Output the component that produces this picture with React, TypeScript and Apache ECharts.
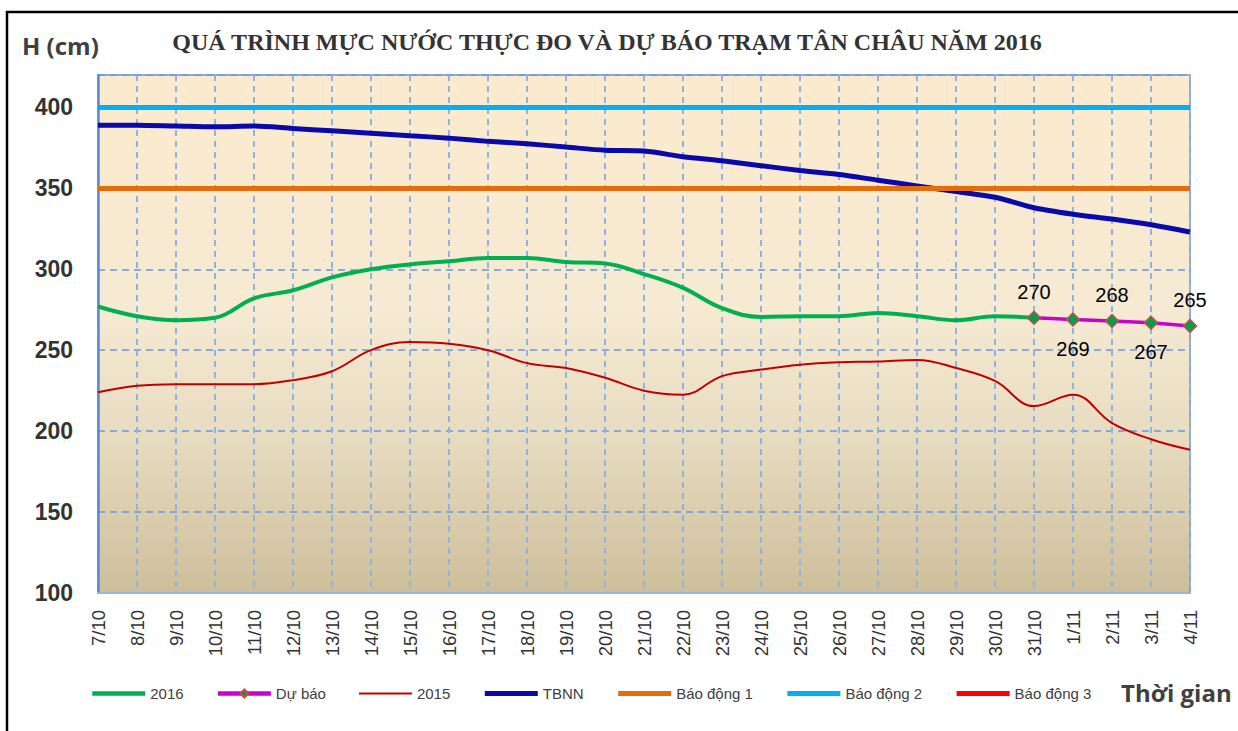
import { useEffect, useRef } from 'react';
import * as echarts from 'echarts';

const categories = [
  '7/10', '8/10', '9/10', '10/10', '11/10', '12/10', '13/10', '14/10', '15/10', '16/10',
  '17/10', '18/10', '19/10', '20/10', '21/10', '22/10', '23/10', '24/10', '25/10', '26/10',
  '27/10', '28/10', '29/10', '30/10', '31/10', '1/11', '2/11', '3/11', '4/11',
];

const data2016 = [
  277, 271, 268.5, 270, 282, 287, 295, 300, 303, 305,
  307, 307, 304.5, 303.5, 297, 288.5, 276, 270.5, 271, 271,
  273, 271, 268.5, 271, 270, null, null, null, null,
];

const forecast = [
  null, null, null, null, null, null, null, null, null, null,
  null, null, null, null, null, null, null, null, null, null,
  null, null, null, null, 270, 269, 268, 267, 265,
];
// label placement of forecast values: true = above the point
const forecastLabelAbove = [true, false, true, false, true];

const data2015 = [
  224, 228, 229, 229, 229, 231.5, 237, 250, 255, 254,
  250, 242, 239, 233, 225, 222.5, 234, 238, 241, 242.5,
  243, 244, 239, 231, 215.5, 222.5, 205, 195, 188.5,
];

const tbnn = [
  389, 389, 388.5, 388, 388.5, 387, 385.5, 384, 382.5, 381,
  379, 377.5, 375.5, 373.5, 373, 369.5, 367, 364, 361, 358.5,
  355, 351.5, 348, 344.5, 338, 334, 331, 327.5, 323,
];

const ALERT_1 = 350;
const ALERT_2 = 400;

const yTicks = [100, 150, 200, 250, 300, 350, 400];

const legendNames = ['2016', 'Dự báo', '2015', 'TBNN', 'Báo động 1', 'Báo động 2', 'Báo động 3'];
const legendLineWidths = [4.5, 4.5, 2, 5, 5, 5, 5];

export default function App() {
  const ref = useRef<HTMLDivElement>(null);

  useEffect(() => {
    if (!ref.current) return;
    const chart = echarts.init(ref.current, undefined, { renderer: 'svg' });

    let fIdx = 0;
    const forecastData = forecast.map((v) => {
      if (v === null) return null;
      const above = forecastLabelAbove[fIdx++];
      return {
        value: v,
        label: {
          show: true,
          position: above ? 'top' : 'bottom',
          distance: above ? 9 : 12,
        },
      };
    });

    const axisFont = 'Liberation Sans, Arial, sans-serif';

    chart.setOption({
      animation: false,
      backgroundColor: '#ffffff',
      grid: {
        left: 98,
        right: 48,
        top: 75,
        bottom: 138,
        show: true,
        borderColor: '#6E93C8',
        borderWidth: 1.5,
        backgroundColor: {
          type: 'linear',
          x: 0, y: 0, x2: 0, y2: 1,
          colorStops: [
            { offset: 0, color: '#FCEACD' },
            { offset: 0.45, color: '#F6EAD3' },
            { offset: 0.7, color: '#E7DCC0' },
            { offset: 1, color: '#CDBE9B' },
          ],
        },
      },
      graphic: [
        {
          type: 'rect',
          shape: { x: 7, y: 12, width: 1400, height: 900 },
          style: { fill: 'none', stroke: '#000', lineWidth: 2.5 },
          silent: true,
          z: 100,
        },
        {
          type: 'text',
          x: 607,
          y: 42,
          style: {
            text: 'QUÁ TRÌNH MỰC NƯỚC THỰC ĐO VÀ DỰ BÁO TRẠM TÂN CHÂU NĂM 2016',
            font: 'bold 24px "Liberation Serif", "Times New Roman", serif',
            fill: '#333333',
            align: 'center',
            verticalAlign: 'middle',
          },
        },
        {
          type: 'text',
          x: 22,
          y: 45,
          style: {
            text: 'H (cm)',
            font: 'bold 24px "Open Sans", sans-serif',
            fill: '#404040',
            align: 'left',
            verticalAlign: 'middle',
          },
        },
        {
          type: 'text',
          x: 1121,
          y: 692,
          style: {
            text: 'Thời gian',
            font: 'bold 24px "Open Sans", sans-serif',
            fill: '#404040',
            align: 'left',
            verticalAlign: 'middle',
          },
        },
      ],
      legend: {
        left: 85,
        top: 681,
        itemWidth: 53,
        itemHeight: 10,
        itemGap: 32,
        data: legendNames.map((n, i) =>
          n === 'Dự báo'
            ? { name: n, lineStyle: { width: legendLineWidths[i] } }
            : { name: n, itemStyle: { opacity: 0 }, lineStyle: { width: legendLineWidths[i] } }
        ),
        textStyle: { fontFamily: axisFont, fontSize: 15, color: '#404040' },
      },
      xAxis: {
        type: 'category',
        data: categories,
        boundaryGap: false,
        axisLine: { show: true, lineStyle: { color: '#9DB5DA', width: 2 } },
        axisTick: { show: false },
        axisLabel: {
          rotate: 90,
          margin: 17,
          interval: 0,
          fontFamily: axisFont,
          fontSize: 18.5,
          color: '#333333',
        },
        splitLine: {
          show: true,
          lineStyle: { color: '#8DB4E2', width: 2, type: [6, 5] },
        },
      },
      yAxis: {
        type: 'value',
        min: yTicks[0],
        max: 420,
        interval: 50,
        axisLine: { show: true, lineStyle: { color: '#5B8BD0', width: 2.5 } },
        axisTick: { show: false },
        axisLabel: {
          margin: 25,
          fontFamily: axisFont,
          fontSize: 23,
          fontWeight: 'bold',
          color: '#333333',
          formatter: (v: number) => (yTicks.includes(v) ? String(v) : ''),
        },
        splitLine: {
          show: true,
          lineStyle: { color: '#6A98D8', width: 1.5, type: [7, 5] },
        },
      },
      series: [
        {
          name: 'Báo động 1',
          type: 'line',
          data: [],
          symbol: 'none',
          lineStyle: { color: '#E46C0A', width: 5 },
          itemStyle: { color: '#E46C0A' },
          markLine: {
            silent: true,
            symbol: 'none',
            label: { show: false },
            lineStyle: { color: '#E46C0A', width: 5, type: 'solid' },
            data: [{ yAxis: ALERT_1 }],
          },
        },
        {
          name: 'Báo động 2',
          type: 'line',
          data: [],
          symbol: 'none',
          lineStyle: { color: '#00B0F0', width: 5 },
          itemStyle: { color: '#00B0F0' },
          markLine: {
            silent: true,
            symbol: 'none',
            label: { show: false },
            lineStyle: { color: '#00B0F0', width: 5, type: 'solid' },
            data: [{ yAxis: ALERT_2 }],
          },
        },
        {
          name: 'Báo động 3',
          type: 'line',
          data: [],
          symbol: 'none',
          lineStyle: { color: '#FF0000', width: 5 },
          itemStyle: { color: '#FF0000' },
        },
        {
          name: 'TBNN',
          type: 'line',
          data: tbnn,
          symbol: 'none',
          smooth: 0.3,
          lineStyle: { color: '#0A0AAA', width: 5 },
          itemStyle: { color: '#0A0AAA' },
        },
        {
          name: '2015',
          type: 'line',
          data: data2015,
          symbol: 'none',
          smooth: 0.4,
          lineStyle: { color: '#C00000', width: 2 },
          itemStyle: { color: '#C00000' },
        },
        {
          name: '2016',
          type: 'line',
          data: data2016,
          symbol: 'none',
          smooth: 0.4,
          lineStyle: { color: '#00B050', width: 4 },
          itemStyle: { color: '#00B050' },
        },
        {
          name: 'Dự báo',
          type: 'line',
          data: forecastData,
          symbol: 'diamond',
          symbolSize: 13,
          showAllSymbol: true,
          lineStyle: { color: '#CC00CC', width: 3.5 },
          itemStyle: { color: '#00A04A', borderColor: '#C0504D', borderWidth: 1.5 },
          label: {
            fontFamily: axisFont,
            fontSize: 20,
            color: '#000000',
          },
        },
      ],
    });

    return () => chart.dispose();
  }, []);

  return (
    <div
      ref={ref}
      style={{ position: 'fixed', left: 0, top: 0, width: 1238, height: 731, background: '#fff' }}
    />
  );
}
